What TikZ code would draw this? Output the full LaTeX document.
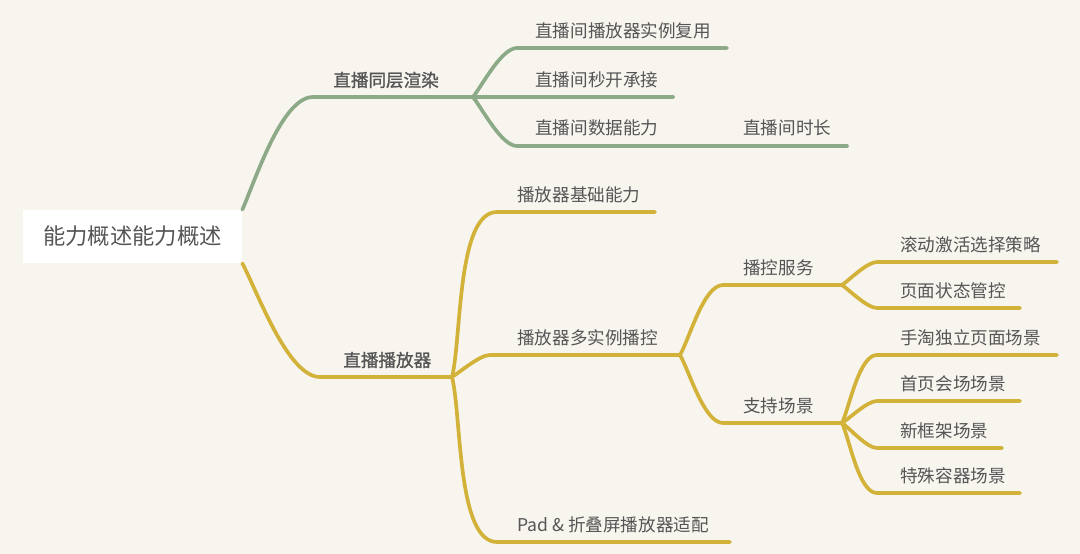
\documentclass[tikz,border=0pt]{standalone}
\usepackage{fontspec}
\setmainfont{Noto Sans CJK SC}
\newfontfamily\cjkmid[FakeBold=1.2]{Noto Sans CJK SC}
\definecolor{paper}{HTML}{F8F5EF}
\definecolor{sage}{HTML}{8DAA88}
\definecolor{mustard}{HTML}{D3B23A}
\definecolor{ink}{HTML}{555555}
\tikzset{
  topic/.style={anchor=west, inner sep=0pt, text=ink, font=\fontsize{10pt}{12pt}\selectfont},
  maintopic/.style={topic, font=\fontsize{10pt}{12pt}\cjkmid},
  limb/.style={line width=2.1pt, line cap=round, looseness=0.6},
}
\begin{document}
\begin{tikzpicture}[x=0.02cm, y=-0.02cm]
\fill[paper] (0,0) rectangle (1080,554);
\node[fill=white, minimum width=4.38cm, minimum height=1.06cm, text=ink,
      font=\fontsize{12.7pt}{15pt}\selectfont] (root) at (132.5,236.5) {能力概述能力概述};

% green branch
\coordinate (rds) at (313,97); \coordinate (rde) at (473,97);
\node[maintopic] (rd) at (333,80) {直播同层渲染};
\draw[limb, sage] (root.north east) to[out=66,in=180] (rds) -- (rde);
\coordinate (ras) at (517,48); \coordinate (rae) at (727,48);
\node[topic] (ra) at (535,31) {直播间播放器实例复用};
\draw[limb, sage] (rde) to[out=52,in=180] (ras) -- (rae);
\coordinate (rbe) at (673,97);
\node[topic] (rb) at (535,80) {直播间秒开承接};
\draw[limb, sage] (rde) -- (rbe);
\coordinate (rcs) at (517,146); \coordinate (rce) at (725,146);
\node[topic] (rc) at (535,128) {直播间数据能力};
\draw[limb, sage] (rde) to[out=-52,in=180] (rcs) -- (rce);
\coordinate (rte) at (847,146);
\node[topic] (rt) at (743,128) {直播间时长};
\draw[limb, sage] (rce) -- (rte);

% yellow branch
\coordinate (pls) at (320,377); \coordinate (ple) at (452,377);
\node[maintopic] (pl) at (343,360) {直播播放器};
\draw[limb, mustard] (root.south east) to[out=-62,in=180] (pls) -- (ple);
\foreach \n/\x/\y/\e/\a/\t in {pa/497/212/655/76/播放器基础能力,pb/490/355/680/32/播放器多实例播控,%
pc/497/542/730/-76/Pad \& 折叠屏播放器适配} {
  \coordinate (\n s) at (\x,\y); \coordinate (\n e) at (\e,\y);
  \node[topic] (\n) at (517,\y-17) {\t};
  \draw[limb, mustard] (ple) to[out=\a,in=180] (\n s) -- (\n e);
}
\foreach \n/\y/\a/\t in {ctl/285/60/播控服务,scn/423/-60/支持场景} {
  \coordinate (\n s) at (723,\y); \coordinate (\n e) at (842,\y);
  \node[topic] (\n) at (743,\y-17) {\t};
  \draw[limb, mustard] (pbe) to[out=\a,in=180] (\n s) -- (\n e);
}
\foreach \n/\y/\e/\a/\t in {c1/262/1057/35/滚动激活选择策略,c2/308/1020/-35/页面状态管控} {
  \coordinate (\n s) at (877,\y); \coordinate (\n e) at (\e,\y);
  \node[topic] (\n) at (900,\y-17) {\t};
  \draw[limb, mustard] (ctle) to[out=\a,in=180] (\n s) -- (\n e);
}
\foreach \n/\y/\e/\a/\t in {s1/355/1057/65/手淘独立页面场景,s2/401/1020/32/首页会场场景,%
s3/448/1002/-35/新框架场景,s4/493/1020/-65/特殊容器场景} {
  \coordinate (\n s) at (877,\y); \coordinate (\n e) at (\e,\y);
  \node[topic] (\n) at (900,\y-17) {\t};
  \draw[limb, mustard] (scne) to[out=\a,in=180] (\n s) -- (\n e);
}
\end{tikzpicture}
\end{document}
